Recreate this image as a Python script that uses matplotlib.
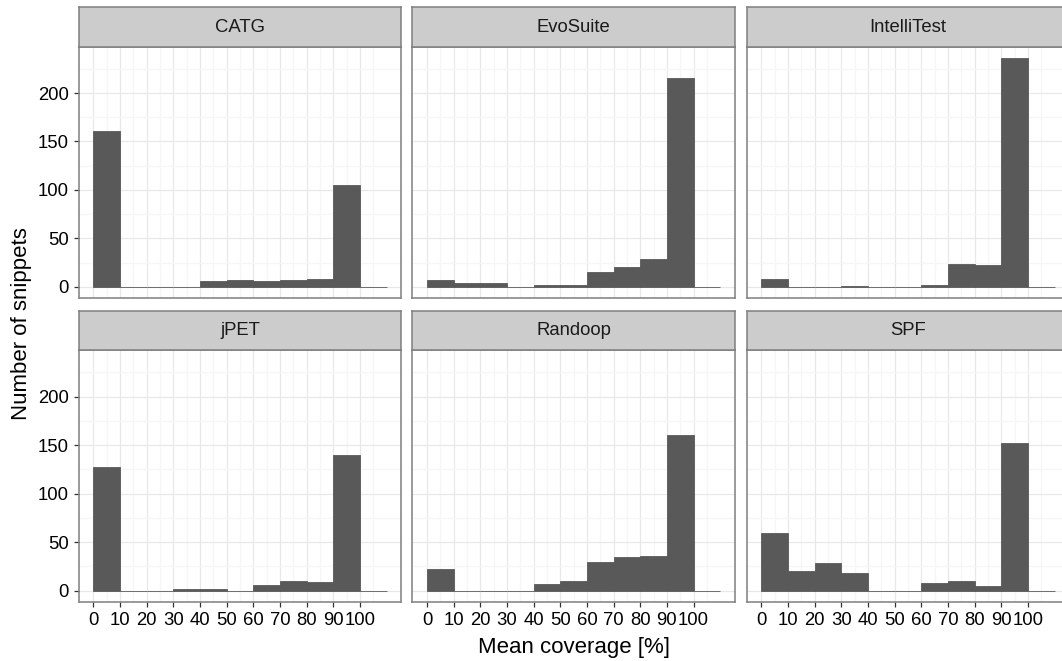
import numpy as np
import matplotlib
matplotlib.use('Agg')
import matplotlib.pyplot as plt

plt.rcParams['font.family'] = ['Liberation Sans', 'DejaVu Sans']

# Histogramm-Daten: Anzahl Snippets je 10%-Klasse (0-10, 10-20, ..., 100-110)
bin_links = [0, 10, 20, 30, 40, 50, 60, 70, 80, 90, 100]
tools = ['CATG', 'EvoSuite', 'IntelliTest', 'jPET', 'Randoop', 'SPF']
catg = [161, 0, 0, 0, 6, 7, 6, 7, 8, 105, 0]
evosuite = [7, 4, 4, 0, 2, 2, 15, 20, 29, 215, 0]
intellitest = [8, 0, 0, 1, 0, 0, 2, 24, 23, 236, 0]
jpet = [128, 0, 0, 2, 2, 0, 6, 10, 9, 140, 0]
randoop = [22, 0, 0, 0, 7, 10, 29, 35, 36, 161, 0]
spf = [59, 20, 28, 18, 0, 0, 8, 10, 5, 152, 0]
counts = [catg, evosuite, intellitest, jpet, randoop, spf]

x_ticks = [0, 10, 20, 30, 40, 50, 60, 70, 80, 90, 100]
y_ticks = [0, 50, 100, 150, 200]

W, H = 1062, 661
fig = plt.figure(figsize=(W / 100, H / 100), dpi=100)

col_links = [78.7, 412.3, 746.7]
panel_b = 322.6
row_oben = [46.7, 350.4]
panel_h = 251.6
strip_h = 39.4

ymax = max(max(c) for c in counts)
ylim = (-0.05 * ymax, ymax * 1.05)
xlim = (-5.5, 115.5)

def px_axes(x, y, w, h):
    return fig.add_axes([x / W, 1 - (y + h) / H, w / W, h / H])

for i, (name, werte) in enumerate(zip(tools, counts)):
    r, c = divmod(i, 3)
    x0 = col_links[c]
    y0 = row_oben[r]
    ax = px_axes(x0, y0, panel_b, panel_h)
    ax.set_xlim(xlim)
    ax.set_ylim(ylim)
    ax.set_xticks(x_ticks)
    ax.set_xticks(np.arange(5, 110, 10), minor=True)
    ax.set_yticks(y_ticks)
    ax.set_yticks([25, 75, 125, 175, 225], minor=True)
    ax.grid(which='major', color='#E8E8E8', lw=0.9)
    ax.grid(which='minor', color='#F6F6F6', lw=0.9)
    ax.set_axisbelow(True)
    ax.bar(bin_links, werte, width=10, align='edge', color='#595959',
           edgecolor='#595959', linewidth=0.6)
    for s in ax.spines.values():
        s.set_color('#7F7F7F')
        s.set_linewidth(1.1)
    ax.tick_params(which='minor', length=0)
    ax.tick_params(which='major', length=3.6, width=0.9, color='#333333',
                   labelsize=13.3, labelcolor='black', pad=3.5)
    if r == 0:
        ax.tick_params(axis='x', which='major', length=0, labelbottom=False)
    if c != 0:
        ax.tick_params(axis='y', which='major', length=0, labelleft=False)

    sax = px_axes(x0, y0 - strip_h, panel_b, strip_h)
    sax.set_xticks([])
    sax.set_yticks([])
    sax.set_facecolor('#CCCCCC')
    for s in sax.spines.values():
        s.set_color('#7F7F7F')
        s.set_linewidth(1.1)
    sax.text(0.5, 0.5, name, ha='center', va='center', fontsize=13.3,
             color='#1A1A1A', transform=sax.transAxes)

fig.text(574 / W, 1 - 647 / H, 'Mean coverage [%]', ha='center', va='center',
         fontsize=16)
fig.text(22 / W, 1 - 324 / H, 'Number of snippets', ha='center', va='center',
         rotation=90, fontsize=16)

fig.savefig('out.png', dpi=100)
